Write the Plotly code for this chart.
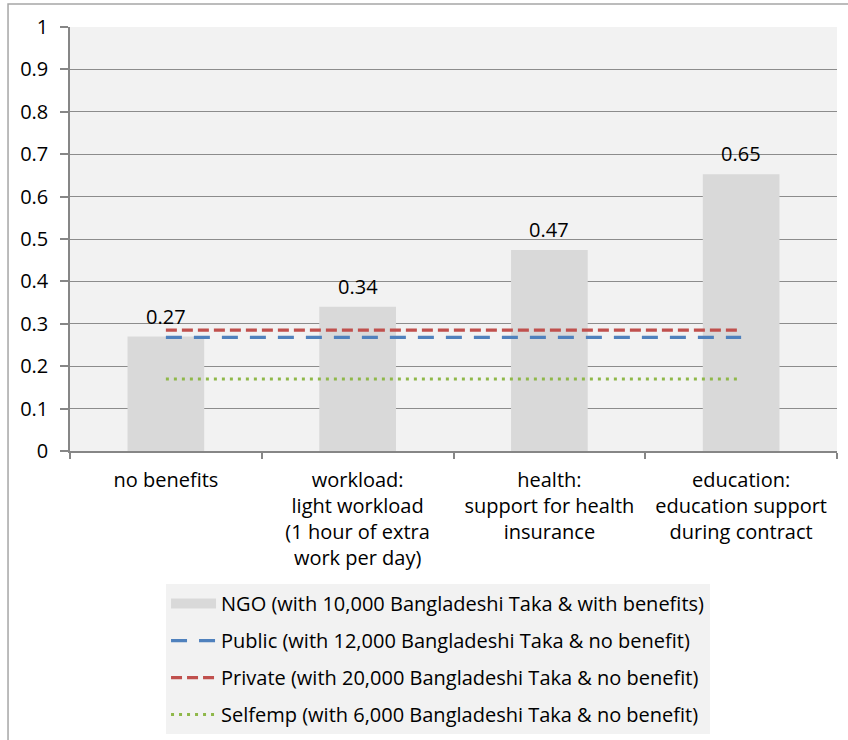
import plotly.graph_objects as go

categories = [
    "no benefits",
    "workload:<br>light workload<br>(1 hour of extra<br>work per day)",
    "health:<br>support for health<br>insurance",
    "education:<br>education support<br>during contract",
]
ngo_values = [0.27, 0.34, 0.474, 0.653]
public_value = 0.268
private_value = 0.285
selfemp_value = 0.170
y_ticks = [0, 0.1, 0.2, 0.3, 0.4, 0.5, 0.6, 0.7, 0.8, 0.9, 1]
names = [
    "NGO (with 10,000 Bangladeshi Taka & with benefits)",
    "Public (with 12,000 Bangladeshi Taka & no benefit)",
    "Private (with 20,000 Bangladeshi Taka & no benefit)",
    "Selfemp (with 6,000 Bangladeshi Taka & no benefit)",
]

FONT = "Open Sans"
FS = 20
GRID = "#8c8c8c"

fig = go.Figure()
fig.add_trace(go.Bar(
    x=categories, y=ngo_values, marker=dict(color="#d9d9d9", line=dict(width=0)),
    width=0.4, showlegend=False, name=names[0], legendgroup="a",
))
# legend proxy for the bar series (wide rectangle)
fig.add_trace(go.Scatter(
    x=[None], y=[None], mode="lines", line=dict(color="#d9d9d9", width=12),
    name=names[0], legendgroup="a",
))
fig.add_trace(go.Scatter(
    x=categories, y=[public_value] * len(categories), mode="lines",
    line=dict(color="#4f81bd", width=3.2, dash="16px,12px"),
    name=names[1], legendgroup="b",
))
fig.add_trace(go.Scatter(
    x=categories, y=[private_value] * len(categories), mode="lines",
    line=dict(color="#c0504d", width=3.2, dash="11px,5px"),
    name=names[2], legendgroup="c",
))
fig.add_trace(go.Scatter(
    x=categories, y=[selfemp_value] * len(categories), mode="lines",
    line=dict(color="#8fb84a", width=3, dash="3px,5px"),
    name=names[3], legendgroup="d",
))

for c, v in zip(categories, ngo_values):
    fig.add_annotation(x=c, y=v, text=f"{v:.2f}", showarrow=False,
                       yanchor="bottom", yshift=5,
                       font=dict(family=FONT, size=FS, color="#000000"))

fig.update_layout(
    width=848, height=740,
    margin=dict(l=70, r=11, t=27, b=289, autoexpand=False),
    paper_bgcolor="white", plot_bgcolor="#f2f2f2",
    font=dict(family=FONT, size=FS, color="#000000"),
    bargap=0.6,
    legend=dict(
        xref="container", yref="container",
        x=0.1958, y=0.008, xanchor="left", yanchor="bottom",
        bgcolor="#f2f2f2", borderwidth=0, traceorder="grouped",
        tracegroupgap=8, itemwidth=45,
        font=dict(family=FONT, size=FS, color="#000000"),
    ),
    shapes=[dict(type="rect", xref="paper", yref="paper",
                 x0=-0.0808, x1=1.2, y0=-1.0, y1=1.054,
                 line=dict(color="#a6a6a6", width=1.5), fillcolor="rgba(0,0,0,0)",
                 layer="below")],
)
fig.update_xaxes(
    type="category", showgrid=False, showline=True, linecolor="#868686", linewidth=1.5,
    ticks="outside", tickson="boundaries", ticklen=6, tickcolor="#868686", tickwidth=1.5,
    tickfont=dict(family=FONT, size=FS, color="#000000"), ticklabelstandoff=10,
    automargin=False,
)
fig.update_yaxes(
    range=[0, 1], tickvals=y_ticks, ticktext=[f"{t:g}" for t in y_ticks],
    showgrid=True, gridcolor=GRID, gridwidth=1,
    showline=True, linecolor="#868686", linewidth=1.5,
    ticks="outside", ticklen=8, tickcolor="#868686", tickwidth=1.5,
    tickfont=dict(family=FONT, size=FS, color="#000000"), ticklabelstandoff=8,
    zeroline=False, automargin=False,
)

fig.write_html("out.html")
